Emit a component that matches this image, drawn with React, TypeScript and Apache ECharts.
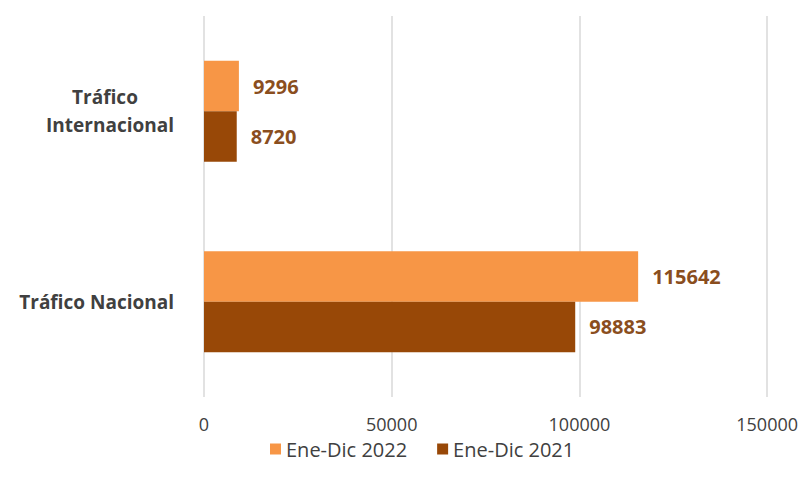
import React, { useEffect, useRef } from "react";
import * as echarts from "echarts";

const categories = ["Tráfico Nacional", "Tráfico Internacional"];
const series2022 = [115642, 9296];
const series2021 = [98883, 8720];
const seriesNames = ["Ene-Dic 2022", "Ene-Dic 2021"];
const xTicks = [0, 50000, 100000, 150000];

const FONT = "'Open Sans', Lato, sans-serif";

export default function App() {
  const ref = useRef<HTMLDivElement>(null);
  useEffect(() => {
    if (!ref.current) return;
    const chart = echarts.init(ref.current, undefined, { renderer: "svg" });
    const labelStyle = {
      show: true,
      position: "right" as const,
      distance: 14,
      color: "#8A4E1E",
      fontWeight: "bold" as const,
      fontSize: 20,
      fontFamily: FONT,
    };
    chart.setOption({
      animation: false,
      textStyle: { fontFamily: FONT },
      grid: { left: 196, right: 26, top: 8, bottom: 77, containLabel: false },
      legend: {
        data: seriesNames,
        bottom: 10,
        left: 257,
        itemWidth: 11,
        itemHeight: 11,
        itemGap: 30,
        icon: "rect",
        textStyle: { fontSize: 20, color: "#404040", fontFamily: FONT },
      },
      xAxis: {
        type: "value",
        min: xTicks[0],
        max: xTicks[xTicks.length - 1],
        interval: 50000,
        axisLine: { show: false },
        axisTick: { show: false },
        splitLine: { show: true, lineStyle: { color: "#d9d9d9", width: 1.5 } },
        axisLabel: {
          fontSize: 18,
          color: "#404040",
          margin: 18,
          fontFamily: FONT,
          formatter: (v: number) => String(v),
        },
      },
      yAxis: {
        type: "category",
        data: categories,
        axisLine: { show: false },
        axisTick: { show: false },
        axisLabel: {
          margin: 30,
          formatter: (v: string) => {
            if (v === "Tráfico Internacional") return "{a|Tráfico}\n{b|Internacional}";
            return "{b|" + v + "}";
          },
          rich: {
            a: { fontSize: 19, fontWeight: "bold", color: "#404040", fontFamily: FONT, width: 138, align: "center", lineHeight: 28 },
            b: { fontSize: 19, fontWeight: "bold", color: "#404040", fontFamily: FONT, lineHeight: 28 },
          },
        },
      },
      series: [
        {
          name: seriesNames[0],
          type: "bar",
          data: series2022,
          barGap: "0%",
          barCategoryGap: "47%",
          itemStyle: { color: "#F79646" },
          label: labelStyle,
        },
        {
          name: seriesNames[1],
          type: "bar",
          data: series2021,
          barGap: "0%",
          barCategoryGap: "47%",
          itemStyle: { color: "#984807" },
          label: labelStyle,
        },
      ],
    });
    return () => chart.dispose();
  }, []);
  return <div ref={ref} style={{ width: 793, height: 466 }} />;
}
